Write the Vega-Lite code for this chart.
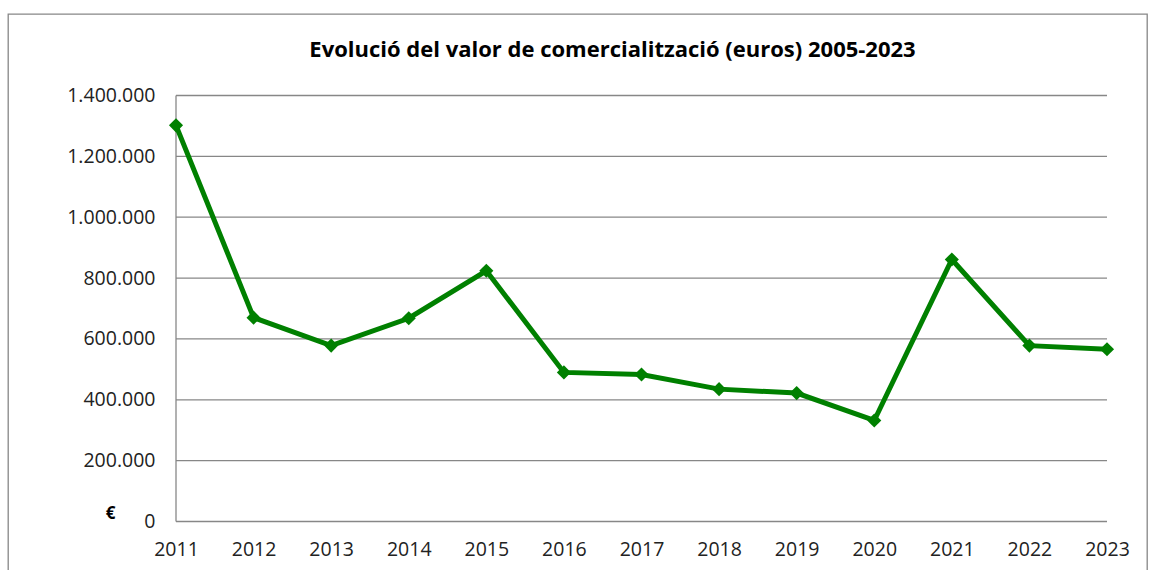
{
  "$schema": "https://vega.github.io/schema/vega-lite/v6.json",
  "width": 1139,
  "height": 557,
  "autosize": {"type": "none"},
  "padding": {"left": 8, "top": 14, "right": 17, "bottom": -1},
  "background": "white",
  "config": {
    "locale": {"number": {"decimal": ",", "thousands": ".", "grouping": [3], "currency": ["", " €"]}},
    "view": {"stroke": "#878787", "strokeWidth": 1.3},
    "font": "Open Sans"
  },
  "title": {
    "text": "Evolució del valor de comercialització (euros) 2005-2023",
    "fontSize": 22,
    "fontWeight": "bold",
    "color": "#000000",
    "font": "Open Sans",
    "anchor": "middle",
    "offset": -65,
    "dx": 35,
    "baseline": "alphabetic"
  },
  "datasets": {
    "main": [
      {"any": 2011, "valor": 1302000},
      {"any": 2012, "valor": 670000},
      {"any": 2013, "valor": 578000},
      {"any": 2014, "valor": 668000},
      {"any": 2015, "valor": 824000},
      {"any": 2016, "valor": 490000},
      {"any": 2017, "valor": 483000},
      {"any": 2018, "valor": 435000},
      {"any": 2019, "valor": 422000},
      {"any": 2020, "valor": 332000},
      {"any": 2021, "valor": 861000},
      {"any": 2022, "valor": 578000},
      {"any": 2023, "valor": 566000}
    ],
    "grid": [
      {"v": 0}, {"v": 200000}, {"v": 400000}, {"v": 600000},
      {"v": 800000}, {"v": 1000000}, {"v": 1200000}, {"v": 1400000}
    ]
  },
  "layer": [
    {
      "data": {"name": "grid"},
      "mark": {"type": "rule", "color": "#878787", "strokeWidth": 1.3},
      "encoding": {
        "y": {"field": "v", "type": "quantitative", "scale": {"domain": [-162676, 1667840], "nice": false, "zero": false}},
        "x": {"datum": 2011, "type": "quantitative", "scale": {"domain": [2008.8346, 2023.5156], "nice": false, "zero": false}},
        "x2": {"datum": 2023}
      }
    },
    {
      "data": {"name": "grid"},
      "transform": [{"filter": "datum.v === 0"}],
      "mark": {"type": "rule", "color": "#878787", "strokeWidth": 1.3},
      "encoding": {
        "x": {"datum": 2011, "type": "quantitative"},
        "y": {"datum": 0, "type": "quantitative"},
        "y2": {"datum": 1400000}
      }
    },
    {
      "data": {"name": "main"},
      "mark": {
        "type": "line",
        "color": "#008000",
        "strokeWidth": 5,
        "point": {"shape": "diamond", "size": 200, "filled": true, "color": "#008000", "opacity": 1}
      },
      "encoding": {
        "x": {
          "field": "any",
          "type": "quantitative",
          "scale": {"domain": [2008.8346, 2023.5156], "nice": false, "zero": false},
          "axis": {
            "values": [2011, 2012, 2013, 2014, 2015, 2016, 2017, 2018, 2019, 2020, 2021, 2022, 2023],
            "format": "d",
            "offset": -49.5,
            "domain": false,
            "ticks": false,
            "grid": false,
            "labelPadding": 19,
            "labelFontSize": 19.5,
            "labelFont": "Open Sans",
            "labelColor": "#222222",
            "labelFlush": false,
            "labelOverlap": false,
            "title": null
          }
        },
        "y": {
          "field": "valor",
          "type": "quantitative",
          "scale": {"domain": [-162676, 1667840], "nice": false, "zero": false},
          "axis": {
            "values": [0, 200000, 400000, 600000, 800000, 1000000, 1200000, 1400000],
            "format": ",d",
            "offset": -168,
            "domain": false,
            "ticks": false,
            "grid": false,
            "labelPadding": 21,
            "labelFontSize": 19.5,
            "labelFont": "Open Sans",
            "labelColor": "#222222",
            "labelFlush": false,
            "labelOverlap": false,
            "title": "€",
            "titleAngle": 0,
            "titleFont": "Open Sans",
            "titleFontSize": 17,
            "titleFontWeight": "bold",
            "titleColor": "#000000",
            "titleX": -66,
            "titleY": 499,
            "titleAlign": "center",
            "titleBaseline": "middle"
          }
        }
      }
    }
  ]
}
